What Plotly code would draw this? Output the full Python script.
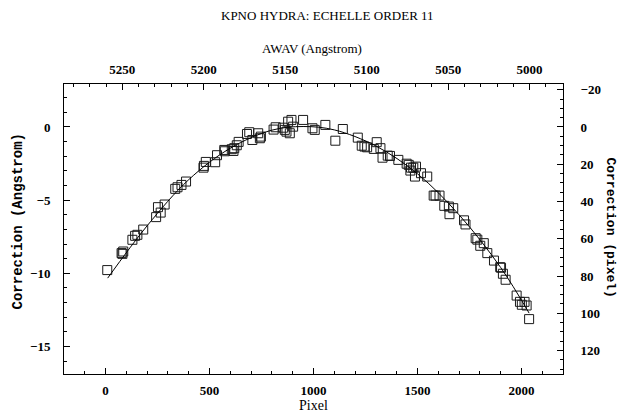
import plotly.graph_objects as go

# ---- data ----
pixel = [8, 77, 85, 81, 129, 142, 153, 181, 243, 252, 265, 284, 335, 346, 365, 387,
         471, 482, 473, 527, 536, 571, 573, 607, 615, 619, 631, 640, 680, 691, 706, 734,
         742, 747, 808, 818, 854, 862, 870, 878, 886, 894, 902, 950, 995, 1006, 1057,
         1105, 1141, 1213, 1232, 1245, 1258, 1304, 1290, 1322, 1332, 1357, 1368, 1408,
         1448, 1458, 1469, 1480, 1466, 1488, 1493, 1517, 1547, 1578, 1587, 1606, 1629,
         1651, 1672, 1654, 1724, 1731, 1780, 1788, 1819, 1802, 1836, 1868, 1898, 1902,
         1911, 1924, 1977, 1993, 2002, 2015, 2025, 2037]
correction = [-9.78, -8.62, -8.51, -8.67, -7.71, -7.44, -7.37, -7.01, -6.16, -5.48, -5.85,
              -5.30, -4.23, -4.12, -3.96, -3.73, -2.78, -2.39, -2.66, -2.41, -1.93, -1.57,
              -1.66, -1.52, -1.64, -1.45, -1.25, -1.02, -0.48, -0.36, -0.89, -0.43, -0.77,
              -0.66, -0.18, -0.02, -0.05, -0.20, -0.32, 0.36, -0.43, 0.48, 0.02, 0.48,
              -0.09, -0.20, 0.14, -0.94, -0.14, -0.73, -1.28, -1.34, -1.39, -1.04, -1.50,
              -1.45, -2.10, -1.96, -1.98, -2.25, -2.51, -2.59, -2.78, -2.78, -2.98, -3.39,
              -2.71, -3.16, -3.39, -4.69, -4.69, -4.69, -5.39, -5.44, -5.55, -5.96, -6.38,
              -6.66, -7.60, -7.70, -7.94, -8.12, -8.62, -9.13, -9.58, -9.62, -10.03,
              -10.44, -11.52, -11.95, -12.15, -11.95, -12.20, -13.13]

fit_pixel = [10, 200, 400, 600, 800, 950, 1100, 1300, 1500, 1700, 1900, 2037]
fit_value = [-10.33, -6.75, -3.60, -1.45, -0.22, 0.03, -0.20, -1.30, -3.20, -6.00, -9.60, -12.72]

title_text = "KPNO HYDRA: ECHELLE ORDER 11"

# ---- layout geometry (page pixels) ----
W, H = 619, 417
L, R, T, B = 63.5, 563.5, 84, 374.3
x_range = [-200, 2200]
y_range = [-16.88, 2.935]
top_range = [5285.8, 4979.5]
right_range = [132.6, -23.05]

serif = "Liberation Serif"
mono = "Liberation Mono"

fig = go.Figure()
fig.add_trace(go.Scatter(x=pixel, y=correction, mode="markers",
                         marker=dict(symbol="square-open", size=9, color="#1a1a1a",
                                     line=dict(width=1, color="#1a1a1a")),
                         hoverinfo="skip", showlegend=False))
fig.add_trace(go.Scatter(x=fit_pixel, y=fit_value, mode="lines",
                         line=dict(color="black", width=1, shape="spline"),
                         hoverinfo="skip", showlegend=False))
# dummy trace to activate the secondary axes
fig.add_trace(go.Scatter(x=[5100], y=[50], xaxis="x2", yaxis="y2", mode="markers",
                         marker=dict(opacity=0), hoverinfo="skip", showlegend=False))

axis_common = dict(showgrid=False, zeroline=False, showline=True, linecolor="black",
                   linewidth=1, ticks="inside", tickcolor="black", ticklen=6, tickwidth=1,
                   automargin=False,
                   tickfont=dict(family=serif, size=13, color="black", weight="bold"))

fig.update_layout(
    width=W, height=H,
    margin=dict(l=L, r=W - R, t=T, b=H - B, pad=0),
    plot_bgcolor="white", paper_bgcolor="white",
    xaxis=dict(range=x_range, dtick=500, tick0=0,
               minor=dict(dtick=100, ticklen=3, ticks="inside", tickcolor="black"),
               ticklabelstandoff=4, **axis_common),
    yaxis=dict(range=y_range, dtick=5, tick0=0,
               minor=dict(dtick=1, ticklen=3, ticks="inside", tickcolor="black"),
               ticklabelstandoff=10, **axis_common),
    xaxis2=dict(range=top_range, overlaying="x", side="top", dtick=50, tick0=5000,
                minor=dict(dtick=10, ticklen=3, ticks="inside", tickcolor="black"),
                ticklabelstandoff=4, **axis_common),
    yaxis2=dict(range=right_range, overlaying="y", side="right", dtick=20, tick0=0,
                minor=dict(dtick=5, ticklen=3, ticks="inside", tickcolor="black"),
                ticklabelstandoff=14, **axis_common),
)

def px_x(px):
    return (px - L) / (R - L)

def px_y(py):
    return (B - py) / (B - T)

ann = [
    dict(text=title_text, x=px_x(328), y=px_y(15), font=dict(family=serif, size=13)),
    dict(text="AWAV (Angstrom)", x=px_x(312), y=px_y(48), font=dict(family=serif, size=13)),
    dict(text="Pixel", x=px_x(314), y=px_y(406), font=dict(family=serif, size=14)),
    dict(text="<b>Correction (Angstrom)</b>", x=px_x(17), y=px_y(222), textangle=-90,
         font=dict(family=mono, size=14)),
    dict(text="<b>Correction (pixel)</b>", x=px_x(611), y=px_y(228), textangle=90,
         font=dict(family=mono, size=13)),
]
for a in ann:
    fig.add_annotation(xref="paper", yref="paper", showarrow=False,
                       xanchor="center", yanchor="middle", **a)
fig.update_annotations(font_color="black")

fig.write_html(
    "out.html",
    config={"displayModeBar": False, "staticPlot": True},
    post_script="document.body.style.margin='0';document.body.style.padding='0';"
                "document.body.style.overflow='hidden';"
                "document.documentElement.style.overflow='hidden';",
)
